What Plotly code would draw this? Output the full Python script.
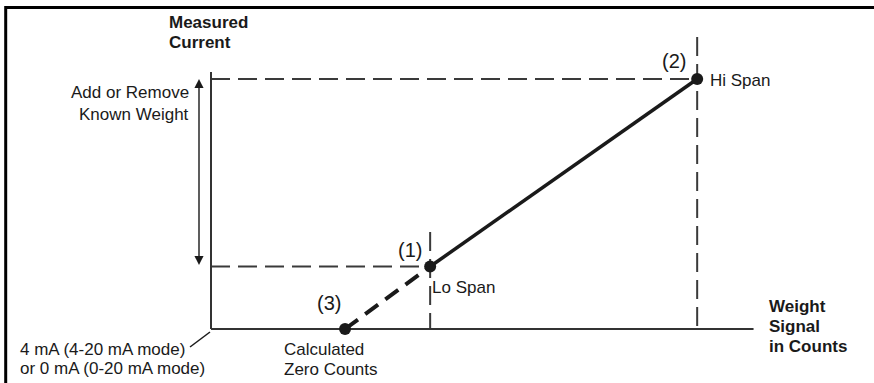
import plotly.graph_objects as go

# calibration points: weight signal (counts) vs measured current (mA)
point_tags = ["(3)", "(1)", "(2)"]
point_names = ["Calculated Zero Counts", "Lo Span", "Hi Span"]
counts = [12600, 20600, 45700]
current_ma = [4, 8, 20]

base_ma = 4
axis_counts_end = 51000
axis_ma_top = 20.45

# page geometry used to map the schematic onto the window
W, H = 874, 383
ORIGIN_PX = (211, 329)
COUNTS_PER_PX = 94
PX_PER_MA = 15.625


def cx(px):
    return (px - ORIGIN_PX[0]) * COUNTS_PER_PX


def my(py):
    return base_ma + (ORIGIN_PX[1] - py) / PX_PER_MA


zero, lo, hi = counts
i_zero, i_lo, i_hi = current_ma

FONT = "Liberation Sans, Arial, sans-serif"
INK = "#1a1a1a"
GUIDE = "#3a3a3a"

fig = go.Figure()

# dashed guide lines
guide = dict(color=GUIDE, width=2, dash="19px,8px")
fig.add_trace(go.Scatter(x=[0, hi], y=[i_hi, i_hi], mode="lines", line=guide))
fig.add_trace(go.Scatter(x=[0, lo], y=[i_lo, i_lo], mode="lines", line=guide))
fig.add_trace(go.Scatter(x=[lo, lo], y=[my(232), i_zero], mode="lines", line=guide))
fig.add_trace(go.Scatter(x=[hi, hi], y=[my(37), i_zero], mode="lines", line=guide))

# axes
fig.add_trace(go.Scatter(
    x=[0, 0, None, 0, axis_counts_end],
    y=[axis_ma_top, base_ma, None, base_ma, base_ma],
    mode="lines", line=dict(color="#333333", width=2),
))

# extrapolated segment to zero counts
fig.add_trace(go.Scatter(
    x=[zero, lo], y=[i_zero, i_lo], mode="lines",
    line=dict(color=INK, width=4, dash="16px,9px"),
))

# calibration line
fig.add_trace(go.Scatter(
    x=[lo, hi], y=[i_lo, i_hi], mode="lines",
    line=dict(color=INK, width=3.5),
))

fig.add_trace(go.Scatter(
    x=counts, y=current_ma, mode="markers",
    marker=dict(color=INK, size=12),
))


def label(text, px, py, anchor="left", bold=False, size=17):
    if bold:
        text = "<b>" + text + "</b>"
    fig.add_annotation(
        x=cx(px), y=my(py), text=text, showarrow=False,
        xanchor=anchor, yanchor="middle",
        font=dict(family=FONT, size=size, color=INK),
    )


label("Measured", 167, 22, bold=True)
label("Current", 167, 42, bold=True)
label("Add or Remove", 191, 92, anchor="right")
label("Known Weight", 191, 114, anchor="right")
label("4 mA (4-20 mA mode)", 18, 349)
label("or 0 mA (0-20 mA mode)", 18, 368)
label("Calculated", 282, 349)
label(point_names[0].split(" ", 1)[1], 282, 369)
label(point_tags[0], 329, 303, anchor="center", size=20)
label(point_tags[1], 410, 250, anchor="center", size=20)
label(point_names[1], 430, 287)
label(point_tags[2], 674, 61, anchor="center", size=20)
label(point_names[2], 708, 80)
label("Weight", 767, 306, bold=True)
label("Signal", 767, 326, bold=True)
label("in Counts", 767, 346, bold=True)

# double arrow: add or remove known weight
fig.add_annotation(
    x=cx(199), y=i_hi, ax=cx(199), ay=i_lo,
    xref="x", yref="y", axref="x", ayref="y",
    text="", showarrow=True, arrowside="end+start",
    arrowhead=2, arrowsize=1.3, arrowwidth=1.4, arrowcolor=INK,
    standoff=0, startstandoff=0,
)

# pointer to the origin
fig.add_shape(
    type="line", x0=cx(190), y0=my(347), x1=cx(210), y1=my(332),
    line=dict(color=INK, width=1.5),
)

# outer frame (top and left edges)
fig.add_shape(type="line", xref="paper", yref="paper",
              x0=5.7 / W, y0=1 - 7.5 / H, x1=1, y1=1 - 7.5 / H,
              line=dict(color="#000000", width=3))
fig.add_shape(type="line", xref="paper", yref="paper",
              x0=5.7 / W, y0=1 - 6 / H, x1=5.7 / W, y1=0,
              line=dict(color="#000000", width=3))

fig.update_layout(
    width=W, height=H, autosize=False,
    margin=dict(l=0, r=0, t=0, b=0),
    showlegend=False,
    plot_bgcolor="white", paper_bgcolor="white",
    xaxis=dict(range=[cx(0), cx(W)], visible=False, fixedrange=True),
    yaxis=dict(range=[my(H), my(0)], visible=False, fixedrange=True),
)

fig.write_html(
    "out.html",
    config=dict(displayModeBar=False),
    post_script="document.body.style.margin='0';document.body.style.overflow='hidden';",
)
